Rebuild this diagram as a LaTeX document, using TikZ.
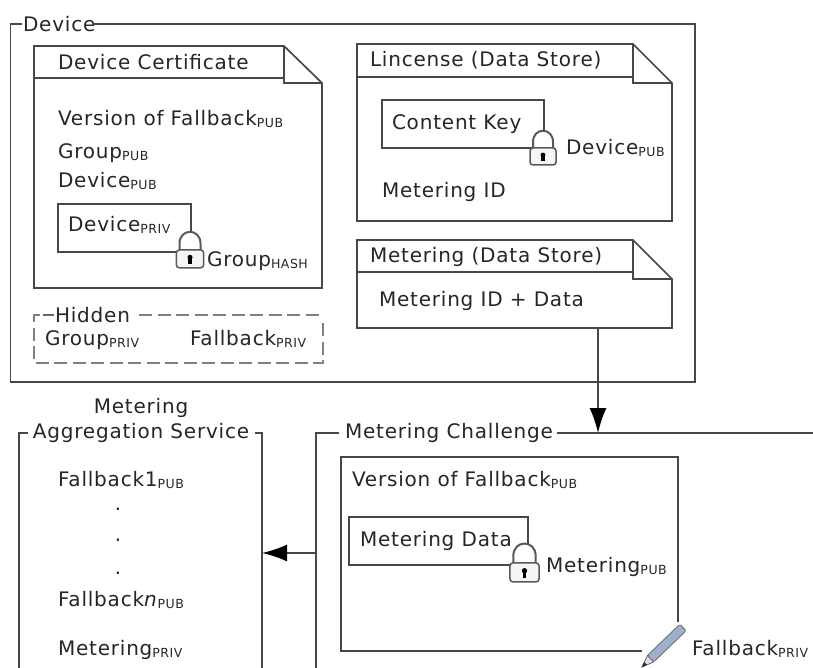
\documentclass[tikz,border=0pt]{standalone}
\usepackage{fontspec}
\setmainfont[LetterSpace=4]{DejaVu Sans}
\usetikzlibrary{arrows.meta,calc}
\definecolor{ln}{gray}{0.28}
\definecolor{penblue}{HTML}{9FB0CC}
\newcommand{\subs}[1]{\raisebox{-2pt}{\fontsize{12.5}{12.5}\selectfont #1}}
% left top right bottom tabY foldX foldY
\newcommand{\notebox}[7]{%
  \draw[boxline,fill=white] (#1,#2) -- (#6,#2) -- (#3,#7) -- (#3,#4) -- (#1,#4) -- cycle;
  \draw[boxline] (#1,#5) -- (#6,#5);
  \draw[boxline] (#6,#2) -- (#6,#7) -- (#3,#7);
}
\tikzset{
  x=1pt,y=-1pt,
  boxline/.style={draw=ln,line width=1.7pt,line join=miter},
  hiddenline/.style={draw=black!50,line width=2.4pt,dash pattern=on 13pt off 5.5pt},
  txt/.style={anchor=base west,inner sep=0pt,outer sep=0pt,yshift=-1pt,text=black!85,font=\fontsize{20}{23}\selectfont},
  ctr/.style={txt,anchor=base,align=center},
  area/.style={inner sep=0pt,outer sep=0pt,minimum width=#1},
  flow/.style={draw=ln,line width=1.6pt,-{Latex[length=25pt,width=17pt,color=black]}},
  lockpic/.pic={
    \draw[draw=black!65,line width=2pt,fill=white] (-10,2) -- (-10,-7) .. controls (-10,-22) and (10,-22) .. (10,-7) -- (10,2);
    \draw[draw=black!65,line width=1.5pt,fill=black!4,rounded corners=3pt] (-13,-1) rectangle (13,16);
    \fill[black] (0,6) circle[radius=2.4];
    \fill[black] (-1.7,6) rectangle (1.7,12.5);
  },
  penpic/.pic={
    \draw[draw=black!60,line width=.8pt,fill=black!12] (0,0) -- (12,-4.5) -- (12,4.5) -- cycle;
    \fill[black!85] (0,0) -- (5,-1.9) -- (5,1.9) -- cycle;
    \draw[draw=black!55,line width=.9pt,fill=penblue,rounded corners=1.5pt] (12,-4.5) rectangle (57,4.5);
  },
}
\begin{document}
\begin{tikzpicture}
\useasboundingbox (0,0) rectangle (813,668);
\clip (0,0) rectangle (813,668);
\fill[white] (0,0) rectangle (813,668);

% Device
\node[txt] (deviceT) at (23,31) {Device};
\draw[boxline] (22,24) -- (10.5,24) -- (10.5,382) -- (695,382) -- (695,24) -- (93,24);

% Device Certificate
\notebox{34}{46}{322}{288}{78}{284}{83}
\node[txt] (certT) at (58,69) {Device Certificate};
\node[txt] (ver) at (58,125) {Version of Fallback\subs{PUB}};
\node[txt] (grp) at (58,158) {Group\subs{PUB}};
\node[txt] (dev) at (58,187) {Device\subs{PUB}};
\draw[boxline] (58,204) rectangle (191,252);
\node[txt] (devp) at (68,231) {Device\subs{PRIV}};
\pic[scale=1.05] at (190,251) {lockpic};
\node[txt] (grph) at (207,265) {Group\subs{HASH}};

% Hidden
\draw[hiddenline] (139,315) -- (323,315);
\draw[hiddenline] (323,323) -- (323,363) -- (34,363) -- (34,315) -- (42,315);
\node[txt] (hid) at (55,321) {Hidden};
\draw[draw=black!60,line width=1.7pt] (43,315) -- (54,315);
\node[txt] (grpp) at (45,344) {Group\subs{PRIV}};
\node[txt] (fbp) at (190,344) {Fallback\subs{PRIV}};

% License
\notebox{357}{44}{672}{221}{77}{633}{83}
\node[txt] (licT) at (370,66) {Lincense (Data Store)};
\draw[boxline] (382,100) rectangle (544,148);
\node[txt] (ck) at (392,129) {Content Key};
\pic at (543,149) {lockpic};
\node[txt] (devq) at (566,154) {Device\subs{PUB}};
\node[txt] (mid) at (382,197) {Metering ID};

% Metering store
\notebox{357}{240}{672}{328}{272}{633}{279}
\node[area=315pt,minimum height=88pt] (meterStore) at (514.5,284) {};
\node[txt] (metT) at (370,261) {Metering (Data Store)};
\node[txt] (metD) at (379,305) {Metering ID + Data};

% Aggregation service
\node[ctr] (svc) at (141,412) {Metering};
\node[ctr] (svc2) at (141,437) {Aggregation Service};
\draw[boxline] (28,433) -- (19,433) -- (19,680);
\draw[boxline] (255,433) -- (262,433) -- (262,680);
\node[area=243pt,minimum height=260pt] (service) at (140.5,563) {};
\node[txt] (f1) at (58,485) {Fallback1\subs{PUB}};
\node[ctr] (d1) at (118,509) {.};
\node[ctr] (d2) at (118,540) {.};
\node[ctr] (d3) at (118,573) {.};
\node[txt] (fn) at (58,605) {Fallback\textit{n}\subs{PUB}};
\node[txt] (mp) at (58,654) {Metering\subs{PRIV}};

% Metering Challenge
\draw[boxline] (339,433) -- (316,433) -- (316,680);
\draw[boxline] (557,433) -- (820,433);
\node[area=497pt,minimum height=260pt] (challenge) at (564.5,563) {};
\node[txt] (chT) at (345,437) {Metering Challenge};
\draw[boxline] (642,651) -- (341,651) -- (341,457) -- (678,457) -- (678,622);
\node[txt] (ver2) at (352,485) {Version of Fallback\subs{PUB}};
\draw[boxline] (349,517) rectangle (528,565);
\node[txt] (mdat) at (360,545) {Metering Data};
\pic[scale=1.12] at (524.5,564) {lockpic};
\node[txt] (mpub) at (546,571) {Metering\subs{PUB}};
\pic[rotate=44] at (642,667) {penpic};
\node[txt] (fb2) at (692,654) {Fallback\subs{PRIV}};

% Connectors
\draw[flow] (meterStore.south -| 598,0) -- (challenge.north -| 598,0);
\draw[flow] (challenge.west |- 0,553) -- (service.east |- 0,553);
\end{tikzpicture}
\end{document}
